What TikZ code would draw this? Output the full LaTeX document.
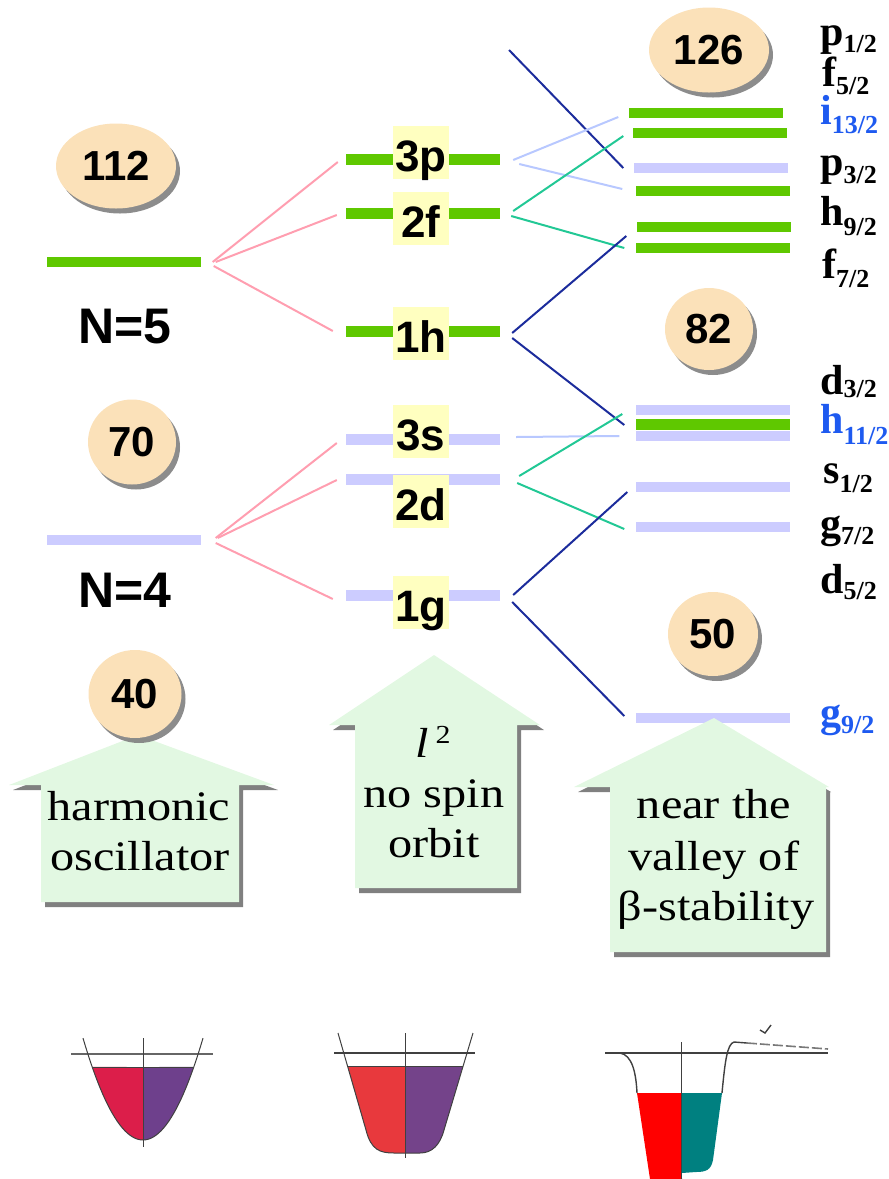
\documentclass[tikz,border=0pt]{standalone}
\usepackage{fontspec}
\setmainfont{Liberation Serif}
\setsansfont{Liberation Sans}
\newfontfamily\palfont{Liberation Serif}[FakeStretch=1.15]
\usetikzlibrary{shapes.geometric,shadows}
\definecolor{levgreen}{HTML}{5FC800}
\definecolor{levlav}{HTML}{CCCCFF}
\definecolor{pinkln}{HTML}{FF9EB0}
\definecolor{lavln}{HTML}{B8C8FF}
\definecolor{tealln}{HTML}{22C895}
\definecolor{navyln}{HTML}{1C2C9C}
\definecolor{tanfill}{HTML}{FBE1B9}
\definecolor{boxyellow}{HTML}{FFFFC0}
\definecolor{arrowgreen}{HTML}{E2F8E2}
\definecolor{shadowgray}{HTML}{808080}
\definecolor{bluelab}{HTML}{1E5AF0}
\definecolor{crimsonw}{HTML}{DC1E4A}
\definecolor{purplew}{HTML}{6E408C}
\definecolor{redw}{HTML}{E8393D}
\definecolor{purplew2}{HTML}{74438A}
\definecolor{tealw}{HTML}{008080}
\definecolor{wellline}{HTML}{404040}
\newcommand\sublab[3][9]{#2\raisebox{-#1pt}{\fontsize{26}{26}\selectfont #3}}
\begin{document}
\begin{tikzpicture}[x=1pt,y=-1pt,
  magic/.style={ellipse, fill=tanfill, inner sep=0pt,
    font=\sffamily\bfseries\fontsize{42}{42}\selectfont,
    drop shadow={shadow xshift=4pt, shadow yshift=-5pt, fill=shadowgray, opacity=0.9}},
  gbar/.style={rectangle, fill=levgreen, inner sep=0pt, minimum height=10pt, minimum width=154pt},
  lbar/.style={gbar, fill=levlav},
  lvlbox/.style={rectangle, fill=boxyellow, inner sep=0pt, minimum width=56pt, minimum height=53pt,
    text height=42pt, text depth=4pt, font=\sffamily\bfseries\fontsize{44}{44}\selectfont},
  shell/.style={font=\sffamily\bfseries\fontsize{50}{50}\selectfont, inner sep=0pt, anchor=base},
  jlab/.style={font=\bfseries\fontsize{42}{42}\selectfont, inner sep=0pt, anchor=base west},
  atext/.style={font=\palfont\fontsize{42}{42}\selectfont, inner sep=0pt, anchor=base},
  conn/.style={line width=2pt},
  pinkc/.style={conn, pinkln},
  lavc/.style={conn, lavln},
  tealc/.style={conn, tealln},
  navyc/.style={conn, navyln},
  wl/.style={wellline, line width=1pt}
]
\useasboundingbox (0,0) rectangle (889,1179);

% ---------- left column ----------
\node[magic, minimum width=120pt, minimum height=85pt] (m112) at (116,166) {112};
\node[gbar] (n5) at (123.5,262) {};
\node[shell] (t5) at (125,343) {N=5};
\node[magic, minimum width=88pt, minimum height=85pt] (m70) at (132,442) {70};
\node[lbar] (n4) at (123.5,540) {};
\node[shell] (t4) at (125,607) {N=4};

% ---------- middle column ----------
\node[gbar, minimum height=11pt] (m3p) at (423,159) {};
\node[gbar, minimum height=11pt] (m2f) at (423,213) {};
\node[gbar, minimum height=11pt] (m1h) at (423,331) {};
\node[lbar, minimum height=11pt] (m3s) at (423,439) {};
\node[lbar, minimum height=11pt] (m2d) at (423,479) {};
\node[lbar, minimum height=11pt] (m1g) at (423,595) {};
\node[lvlbox] (b3p) at (421,152.5) {3p};
\node[lvlbox] (b2f) at (421,218.5) {2f};
\node[lvlbox] (b1h) at (421,333.5) {1h};
\node[lvlbox] (b3s) at (421,431.5) {3s};
\node[lvlbox] (b2d) at (421,501) {2d};
\node[lvlbox] (b1g) at (421,602) {1g};

% ---------- right column ----------
\node[magic, minimum width=120pt, minimum height=85pt] (m126) at (709,50) {126};
\node[magic, minimum width=88pt, minimum height=82pt] (m82) at (709,329) {82};
\node[magic, minimum width=90pt, minimum height=84pt] (m50) at (713,634) {50};

\node[gbar] (r1) at (705.5,113) {};
\node[gbar] (r2) at (709.5,133) {};
\node[lbar] (r3) at (710.5,168) {};
\node[gbar] (r4) at (712.5,191) {};
\node[gbar] (r5) at (713.5,227) {};
\node[gbar] (r6) at (712.5,248) {};
\node[lbar] (r7) at (712.5,410) {};
\node[lbar] (r9) at (712.5,436) {};
\node[gbar, minimum height=11pt] (r8) at (712.5,424) {};
\node[lbar] (r10) at (712.5,487) {};
\node[lbar] (r11) at (712.5,527) {};
\node[lbar] (r12) at (712.5,718) {};

\node[jlab] (lp1) at (820,45) {\sublab[7]{p}{1/2}};
\node[jlab] (lf5) at (822,86) {\sublab[8]{f}{5/2}};
\node[jlab, text=bluelab] (li13) at (820,124) {\sublab[9]{i}{13/2}};
\node[jlab] (lp3) at (820,175) {\sublab[8]{p}{3/2}};
\node[jlab] (lh9) at (820,225) {\sublab[10]{h}{9/2}};
\node[jlab] (lf7) at (822,278) {\sublab[9]{f}{7/2}};
\node[jlab] (ld3) at (820,394) {\sublab[3]{d}{3/2}};
\node[jlab, text=bluelab] (lh11) at (820,433) {\sublab[11]{h}{11/2}};
\node[jlab] (ls1) at (823,483) {\sublab[9]{s}{1/2}};
\node[jlab] (lg7) at (820,537) {\sublab[7]{g}{7/2}};
\node[jlab] (ld5) at (820,593) {\sublab[6]{d}{5/2}};
\node[jlab, text=bluelab] (lg9) at (820,726) {\sublab[7]{g}{9/2}};

% ---------- connectors ----------
\draw[pinkc] ([xshift=12pt]n5.east) -- ([xshift=-8pt,yshift=-3pt]m3p.west);
\draw[pinkc] ([xshift=15pt]n5.east) -- ([xshift=-9pt,yshift=-2pt]m2f.west);
\draw[pinkc] ([xshift=13pt,yshift=-4pt]n5.east) -- ([xshift=-13pt]m1h.west);
\draw[pinkc] ([xshift=15pt,yshift=2pt]n4.east) -- ([xshift=-9pt,yshift=-4pt]m3s.west);
\draw[pinkc] ([xshift=17pt,yshift=2pt]n4.east) -- ([xshift=-9pt,yshift=-1pt]m2d.west);
\draw[pinkc] ([xshift=15pt,yshift=-3pt]n4.east) -- ([xshift=-13pt,yshift=-4pt]m1g.west);

\coordinate (ntop) at (509,50);
\draw[navyc] (ntop) -- ([xshift=-10pt]r3.west);
\draw[lavc] ([xshift=13pt,yshift=-1pt]m3p.east) -- ([xshift=-10pt,yshift=-4pt]r1.west);
\draw[lavc] ([xshift=19pt,yshift=-5pt]m3p.east) -- ([xshift=-13pt,yshift=2pt]r4.west);
\draw[tealc] ([xshift=13pt,yshift=2pt]m2f.east) -- ([xshift=-9pt,yshift=-3pt]r2.west);
\draw[tealc] ([xshift=11pt,yshift=-3pt]m2f.east) -- ([xshift=-11pt]r6.west);
\draw[navyc] ([xshift=12pt,yshift=-2pt]m1h.east) -- ([xshift=-9pt,yshift=12pt]r6.west);
\draw[navyc] ([xshift=12pt,yshift=-7pt]m1h.east) -- ([xshift=-11pt,yshift=-1pt]r8.west);
\draw[lavc] ([xshift=16pt,yshift=2pt]m3s.east) -- ([xshift=-16pt]r9.west);
\draw[tealc] ([xshift=19pt,yshift=3pt]m2d.east) -- ([xshift=-13pt,yshift=-4pt]r7.west);
\draw[tealc] ([xshift=17pt,yshift=-4pt]m2d.east) -- ([xshift=-11pt,yshift=-2pt]r11.west);
\draw[navyc] ([xshift=13pt]m1g.east) -- ([xshift=-8pt,yshift=-5pt]r10.west);
\draw[navyc] ([xshift=12pt,yshift=-7pt]m1g.east) -- ([xshift=-11pt,yshift=2pt]r12.west);

% ---------- big arrows ----------
\fill[shadowgray] (142,740) -- (278,790) -- (243,790) -- (243,907) -- (45,907) -- (45,790) -- (13,790) -- cycle;
\fill[arrowgreen] (138,735) -- (274,785) -- (239,785) -- (239,902) -- (41,902) -- (41,785) -- (9,785) -- cycle;
\fill[shadowgray] (438,660) -- (544,730) -- (521,730) -- (521,893) -- (359,893) -- (359,730) -- (333,730) -- cycle;
\fill[arrowgreen] (434,655) -- (540,725) -- (517,725) -- (517,888) -- (355,888) -- (355,725) -- (329,725) -- cycle;
\fill[shadowgray] (718,723) -- (831,792) -- (830,792) -- (830,957) -- (614,957) -- (614,792) -- (578,792) -- cycle;
\fill[arrowgreen] (714,718) -- (829,787) -- (826,787) -- (826,952) -- (610,952) -- (610,787) -- (574,787) -- cycle;

\node[magic, minimum width=93pt, minimum height=88pt] (m40) at (135,694) {40};

\node[atext] (a1) at (139,820) {harmonic};
\node[atext] (a2) at (140,870) {oscillator};
\node[atext] (a3) at (433,757) {\itshape l\,\raisebox{14pt}{\upshape\fontsize{26}{26}\selectfont 2}};
\node[atext] (a4) at (434,807) {no spin};
\node[atext] (a5) at (434,857) {orbit};
\node[atext] (a6) at (714,818) {near the};
\node[atext] (a7) at (714,870) {valley of};
\node[atext] (a8) at (716,920) {β-stability};

% ---------- potential wells ----------
% harmonic
\fill[crimsonw] plot[domain=92.2:143,samples=30] (\x,{1140-0.0283*(\x-143)*(\x-143)}) -- (143,1067) -- cycle;
\fill[purplew] (143,1067) -- plot[domain=143:193.8,samples=30] (\x,{1140-0.0283*(\x-143)*(\x-143)}) -- cycle;
\draw[wl] plot[domain=83:203,samples=50] (\x,{1140-0.0283*(\x-143)*(\x-143)});
\draw[wl] (92,1067) -- (194,1067);
\draw[wellline, line width=2pt, opacity=0.8] (71,1054) -- (213,1054);
\draw[wl] (143,1038) -- (143,1147);
% flattened oscillator
\fill[redw] (347.5,1066) -- (366,1130) .. controls (371,1150) and (380,1153) .. (394,1153) -- (405,1153) -- (405,1066) -- cycle;
\fill[purplew2] (405,1066) -- (405,1153) -- (420,1153) .. controls (432,1153) and (440,1145) .. (444,1130) -- (463,1066) -- cycle;
\draw[wl] (338,1033) -- (366,1130) .. controls (371,1150) and (380,1153) .. (394,1153) -- (420,1153) .. controls (432,1153) and (440,1145) .. (444,1130) -- (473,1033);
\draw[wl] (347,1066) -- (463,1066);
\draw[wellline, line width=2pt] (334,1053) -- (475,1053);
\draw[wl] (405,1033) -- (405,1158);
% realistic well
\fill[red] (637,1093) -- (681,1093) -- (682,1179) -- (650,1179) -- cycle;
\fill[tealw] (681,1093) -- (722,1093) -- (713,1160) .. controls (711,1170) and (706,1172) .. (696,1172) -- (682,1173) -- cycle;
\draw[wellline, line width=2.6pt] (605,1053) -- (828,1053);
\draw[wellline, line width=1.4pt] (620,1053) .. controls (632,1055) and (636,1072) .. (637,1093);
\draw[wellline, line width=1.4pt] (722,1093) .. controls (725,1062) and (727,1044) .. (734,1042) -- (747,1043);
\draw[wellline!70, line width=1.6pt, dash pattern=on 10pt off 3pt] (747,1043) -- (828,1049);
\draw[wellline, line width=1.4pt] (760,1030) -- (765,1033) -- (771,1025);
\draw[wl] (681,1042) -- (681,1179);
\end{tikzpicture}
\end{document}
